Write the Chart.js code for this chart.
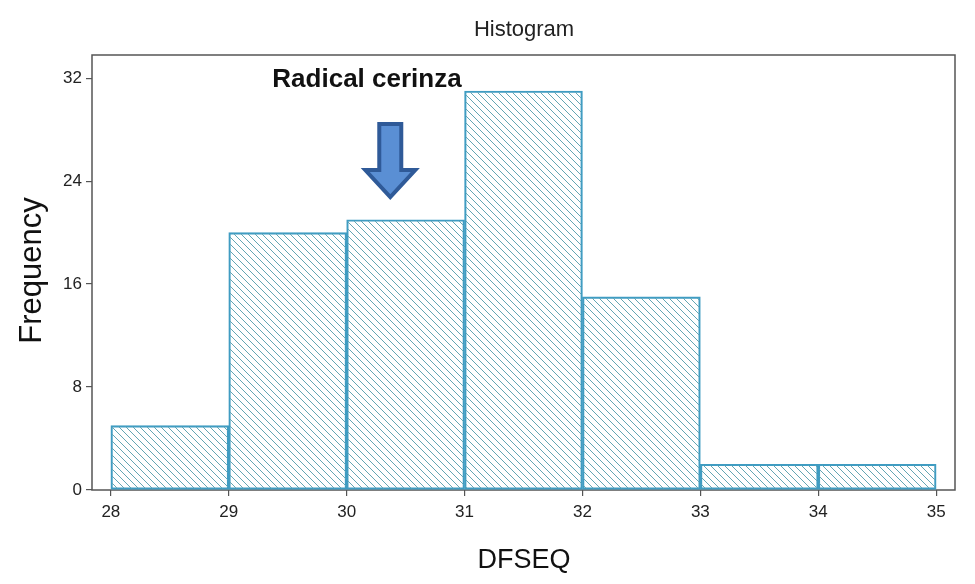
<!DOCTYPE html>
<html>
<head>
<meta charset="utf-8">
<title>Histogram</title>
<script src="https://cdn.jsdelivr.net/npm/chart.js@4.4.1/dist/chart.umd.min.js"></script>
<style>
    body { margin: 0; background: #fff; }
    #wrap { width: 975px; height: 584px; }
</style>
</head>
<body>
<div id="wrap"><canvas id="histChart" width="975" height="584"></canvas></div>
<script>
// histogram bins (left edges), frequencies and axis ticks
const binStarts = [28, 29, 30, 31, 32, 33, 34];
const frequencies = [5, 20, 21, 31, 15, 2, 2];
const xTickValues = [28, 29, 30, 31, 32, 33, 34, 35];
const yTickValues = [0, 8, 16, 24, 32];

const chartTitle = 'Histogram';
const noteText = 'Radical cerinza';
const xTitle = 'DFSEQ';
const yTitle = 'Frequency';

const FONT = '"Liberation Sans", Arial, sans-serif';

function makeHatch() {
    const s = 7;
    const tile = document.createElement('canvas');
    tile.width = s;
    tile.height = s;
    const c = tile.getContext('2d');
    c.strokeStyle = '#63a6b4';
    c.lineWidth = 1;
    c.beginPath();
    c.moveTo(-1, -1); c.lineTo(s + 1, s + 1);
    c.moveTo(-1, s - 1); c.lineTo(1, s + 1);
    c.moveTo(s - 1, -1); c.lineTo(s + 1, 1);
    c.stroke();
    return c.createPattern(tile, 'repeat');
}

// frame, texts and the arrow annotation
const decorPlugin = {
    id: 'decor',
    beforeDatasetsDraw(chart) {
        const { ctx, chartArea: a } = chart;
        ctx.save();
        ctx.strokeStyle = '#555';
        ctx.lineWidth = 1.5;
        ctx.strokeRect(a.left, a.top, a.right - a.left, a.bottom - a.top);
        ctx.restore();
    },
    afterDraw(chart) {
        const { ctx, chartArea: a } = chart;
        const xs = chart.scales.x;
        ctx.save();
        ctx.textAlign = 'center';
        ctx.textBaseline = 'alphabetic';

        ctx.fillStyle = '#222';
        ctx.font = '22px ' + FONT;
        ctx.fillText(chartTitle, 524, 36);

        ctx.fillStyle = '#111';
        ctx.font = 'bold 26px ' + FONT;
        ctx.fillText(noteText, 367, 87);

        ctx.font = '27px ' + FONT;
        ctx.fillText(xTitle, 524, 568);

        ctx.save();
        ctx.translate(41, (a.top + a.bottom) / 2 - 2);
        ctx.rotate(-Math.PI / 2);
        ctx.font = '31px ' + FONT;
        ctx.fillText(yTitle, 0, 0);
        ctx.restore();

        // down arrow
        const cx = xs.getPixelForValue(30.37);
        const top = 124, headY = 170, tip = 197;
        ctx.beginPath();
        ctx.moveTo(cx - 11, top);
        ctx.lineTo(cx + 11, top);
        ctx.lineTo(cx + 11, headY);
        ctx.lineTo(cx + 25, headY);
        ctx.lineTo(cx, tip);
        ctx.lineTo(cx - 25, headY);
        ctx.lineTo(cx - 11, headY);
        ctx.closePath();
        ctx.fillStyle = '#5a8fd4';
        ctx.fill();
        ctx.strokeStyle = '#2f5a98';
        ctx.lineWidth = 4;
        ctx.lineJoin = 'miter';
        ctx.stroke();
        ctx.restore();
    }
};

const ctx = document.getElementById('histChart').getContext('2d');
new Chart(ctx, {
    type: 'bar',
    data: {
        datasets: [{
            data: binStarts.map((b, i) => ({ x: b + 0.5, y: frequencies[i] })),
            backgroundColor: makeHatch(),
            borderColor: '#3f9cc2',
            borderWidth: 1.5,
            borderSkipped: false,
            barPercentage: 1,
            categoryPercentage: 1
        }]
    },
    options: {
        responsive: false,
        animation: false,
        layout: { padding: { top: 55, right: 20, left: 0, bottom: 0 } },
        plugins: {
            legend: { display: false },
            tooltip: { enabled: false }
        },
        scales: {
            x: {
                type: 'linear',
                offset: false,
                min: 27.84,
                max: 35.16,
                afterBuildTicks(scale) {
                    scale.ticks = xTickValues.map(v => ({ value: v }));
                },
                afterFit(scale) { scale.height = 94; },
                grid: { offset: false, drawOnChartArea: false, drawTicks: true, tickLength: 6, color: '#555', lineWidth: 1.2 },
                border: { display: false },
                ticks: { color: '#222', padding: 6, font: { family: FONT, size: 17 } }
            },
            y: {
                min: 0,
                max: 33.8,
                afterBuildTicks(scale) {
                    scale.ticks = yTickValues.map(v => ({ value: v }));
                },
                afterFit(scale) { scale.width = 92; },
                grid: { drawOnChartArea: false, drawTicks: true, tickLength: 6, color: '#555', lineWidth: 1.2 },
                border: { display: false },
                ticks: { color: '#222', padding: 4, font: { family: FONT, size: 17 } }
            }
        }
    },
    plugins: [decorPlugin]
});
</script>
</body>
</html>
